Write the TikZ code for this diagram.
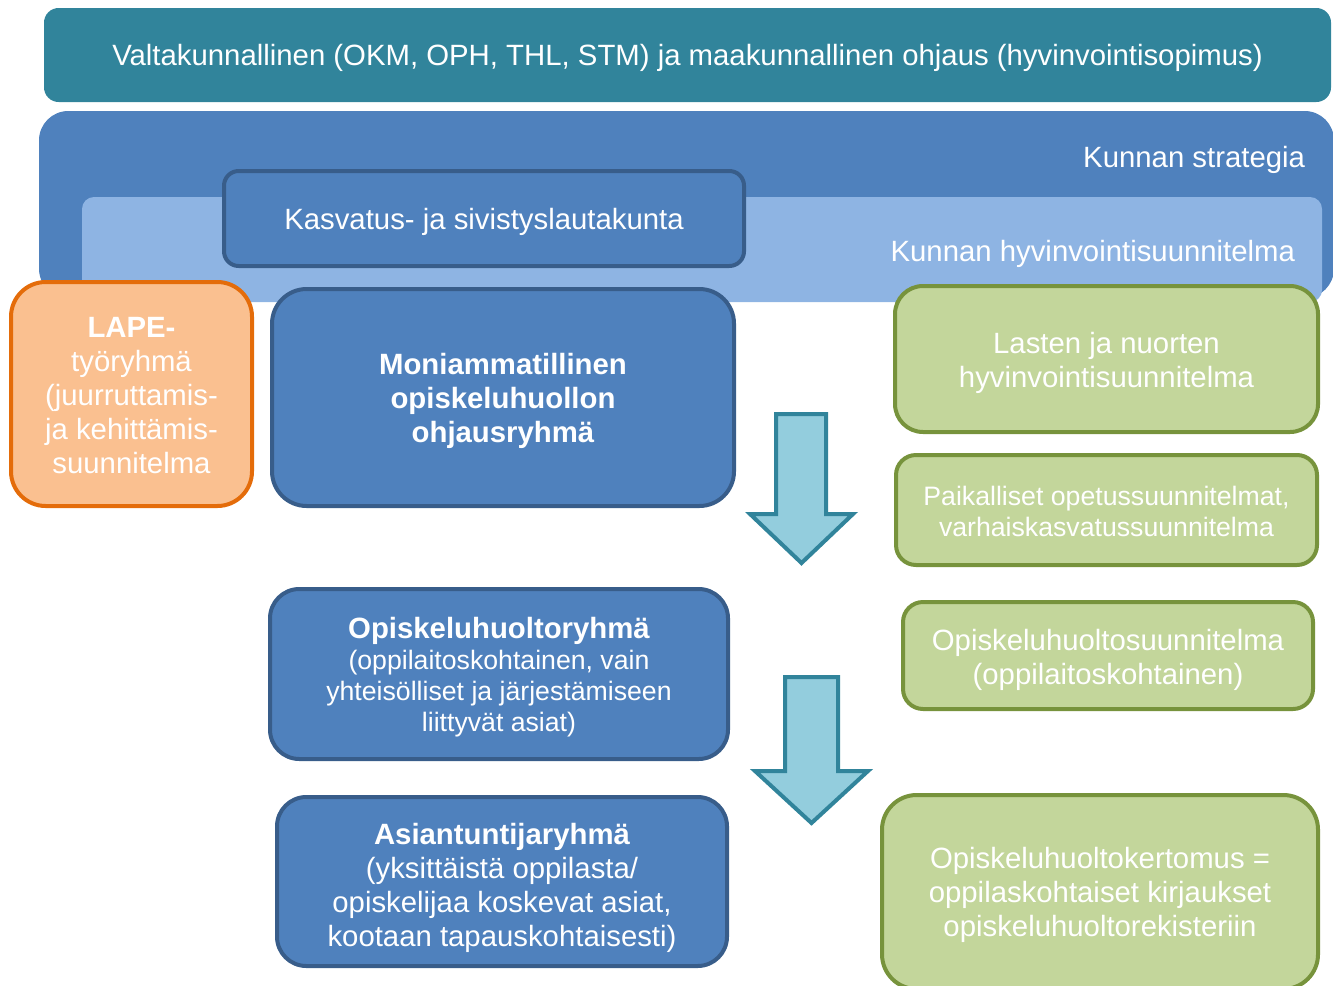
\documentclass[tikz,border=0pt]{standalone}
\usepackage{fontspec}
\setmainfont{Liberation Sans}
\definecolor{teal}{HTML}{31849B}
\definecolor{mblue}{HTML}{4F81BD}
\definecolor{dblue}{HTML}{385D8A}
\definecolor{lblue}{HTML}{8EB4E3}
\definecolor{ofill}{HTML}{FAC090}
\definecolor{oline}{HTML}{E46C0A}
\definecolor{gfill}{HTML}{C3D69B}
\definecolor{gline}{HTML}{77933C}
\definecolor{afill}{HTML}{93CDDD}
\tikzset{
  box/.style={rectangle, align=center, text=white, inner sep=0pt, outer sep=0pt},
  bluebox/.style={box, fill=mblue, draw=dblue, line width=3pt},
  greenbox/.style={box, fill=gfill, draw=gline, line width=3pt},
  orangebox/.style={box, fill=ofill, draw=oline, line width=3pt},
  bigtxt/.style={box, font=\fontsize{22pt}{25.5pt}\selectfont},
  smalltxt/.style={box, font=\fontsize{20pt}{23.25pt}\selectfont},
  downarrow/.style={fill=afill, draw=teal, line width=3pt, line join=miter},
}
\begin{document}
\begin{tikzpicture}[x=0.75pt, y=-0.75pt]
\useasboundingbox (0,0) rectangle (1333,985);
% top band
\node[box, fill=teal, rounded corners=11pt, minimum width=965.25pt, minimum height=70.5pt] (ohjaus) at (687.5,55) {};
\node[box, font=\fontsize{22pt}{25pt}\selectfont] (ohjaustxt) at (687.5,58)
  {Valtakunnallinen (OKM, OPH, THL, STM) ja maakunnallinen ohjaus (hyvinvointisopimus)};
% municipal strategy
\node[box, fill=mblue, rounded corners=22pt, minimum width=971.25pt, minimum height=140.25pt] (strat) at (686.5,204.5) {};
\node[bigtxt, anchor=east] (strattxt) at (1305,160) {Kunnan strategia};
\node[box, fill=lblue, rounded corners=9pt, minimum width=930pt, minimum height=78.75pt] (hyv) at (702,249.5) {};
\node[bigtxt, anchor=east] (hyvtxt) at (1295,254) {Kunnan hyvinvointisuunnitelma};
% Kasvatus
\node[bluebox, rounded corners=11pt, minimum width=390pt, minimum height=71.25pt] (kasv) at (484,218.5) {};
\node[bigtxt] (kasvtxt) at (484,222) {Kasvatus- ja sivistyslautakunta};
% LAPE
\node[orangebox, rounded corners=26pt, minimum width=180.75pt, minimum height=168pt] (lape) at (131.5,394) {};
\node[bigtxt] (lapetxt) at (131.5,396)
  {\textbf{LAPE-}\\työryhmä\\(juurruttamis-\\ja kehittämis-\\suunnitelma};
% Moniammatillinen
\node[bluebox, rounded corners=26pt, minimum width=346.5pt, minimum height=162.75pt] (moni) at (503,397.5) {};
\node[bigtxt] (monitxt) at (503,401)
  {\textbf{Moniammatillinen}\\\textbf{opiskeluhuollon}\\\textbf{ohjausryhmä}};
% green boxes
\node[greenbox, rounded corners=21pt, minimum width=317.25pt, minimum height=109.5pt] (lnhyv) at (1106.5,359) {};
\node[bigtxt] (lnhyvtxt) at (1106.5,363) {Lasten ja nuorten\\hyvinvointisuunnitelma};
\node[greenbox, rounded corners=15pt, minimum width=315.75pt, minimum height=82.5pt] (ops) at (1106.5,510) {};
\node[smalltxt] (opstxt) at (1106.5,511) {Paikalliset opetussuunnitelmat,\\varhaiskasvatussuunnitelma};
\node[greenbox, rounded corners=15pt, minimum width=307.5pt, minimum height=80.25pt] (ohs) at (1108,655.5) {};
\node[bigtxt] (ohstxt) at (1108,660) {Opiskeluhuoltosuunnitelma\\(oppilaitoskohtainen)};
\node[greenbox, rounded corners=26pt, minimum width=327pt, minimum height=145.5pt] (kert) at (1100,892) {};
\node[bigtxt] (kerttxt) at (1100,895)
  {Opiskeluhuoltokertomus =\\oppilaskohtaiset kirjaukset\\opiskeluhuoltorekisteriin};
% blue groups
\node[bluebox, rounded corners=22pt, minimum width=343.5pt, minimum height=127.5pt] (ohr) at (499,674) {};
\node[smalltxt] (ohrtxt) at (499,677.5)
  {{\fontsize{22pt}{23.25pt}\selectfont\textbf{Opiskeluhuoltoryhmä}}\\(oppilaitoskohtainen, vain\\yhteisölliset ja järjestämiseen\\liittyvät asiat)};
\node[bluebox, rounded corners=22pt, minimum width=337.5pt, minimum height=126.75pt] (asi) at (502,881.5) {};
\node[bigtxt] (asitxt) at (502,888)
  {\textbf{Asiantuntijaryhmä}\\(yksittäistä oppilasta/\\opiskelijaa koskevat asiat,\\kootaan tapauskohtaisesti)};
% arrows
\draw[downarrow] (776,414) -- (826,414) -- (826,514) -- (853,514) -- (801.5,563) -- (750,514) -- (776,514) -- cycle;
\draw[downarrow] (785,677) -- (838,677) -- (838,771) -- (868,771) -- (811.5,823) -- (755,771) -- (785,771) -- cycle;
\end{tikzpicture}
\end{document}
